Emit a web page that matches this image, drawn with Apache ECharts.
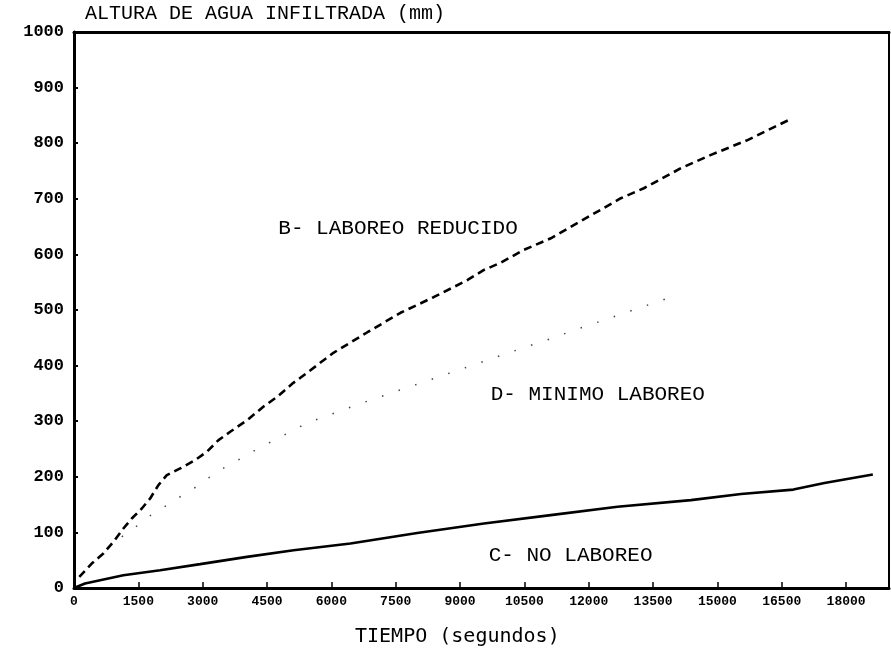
<!DOCTYPE html>
<html>
<head>
<meta charset="utf-8">
<script src="https://cdn.jsdelivr.net/npm/echarts@6/dist/echarts.min.js"></script>
<style>html,body{margin:0;padding:0;background:#fff;}#c{width:891px;height:653px;}</style>
</head>
<body>
<div id="c"></div>
<script>
// ---- data (time in seconds, infiltrated water in mm) ----
const xTicks = [0,1500,3000,4500,6000,7500,9000,10500,12000,13500,15000,16500,18000];
const yTicks = [0,100,200,300,400,500,600,700,800,900,1000];

const bTime = [124,413,684,918,1151,1347,1581,1775,1968,2164,2475,2825,3098,3369,3642,4039,4413,4740,5114,5277,6048,6841,7612,8382,9176,9557,9947,10484,11115,12748,13285,14149,14850,15714,16321,16671];
const bVal  = [20,44,62,83,107,125,143,161,185,203,215,230,245,266,281,302,326,344,369,378,423,460,495,523,554,572,585,608,629,701,719,755,779,806,829,842];

const cTime = [0,257,1151,2008,2942,4032,5120,6444,8001,9557,11114,12671,14382,15549,16770,17495,18623];
const cVal  = [0,8,23,32,43,56,68,80,99,116,131,146,158,169,177,189,204];

const dTime = [1113,1424,1681,1945,2241,2552,2849,3369,3642,4226,5440,6398,6725,8359,10250,10577,10881,11534,11861,13799];
const dVal  = [92,109,125,139,152,168,182,211,222,248,297,324,333,376,426,435,442,460,469,520];

const titleText = 'ALTURA DE AGUA INFILTRADA (mm)';
const xName = 'TIEMPO (segundos)';
const seriesLabels = [
  {text:'B- LABOREO REDUCIDO', at:[4763,646]},
  {text:'D- MINIMO LABOREO',   at:[9714,349]},
  {text:'C- NO LABOREO',       at:[9667,59]}
];

const zip = (a,b) => a.map((v,i)=>[v,b[i]]);
const MONO = '"Liberation Mono", "DejaVu Sans Mono", monospace';
const plain = v => String(v);

const chart = echarts.init(document.getElementById('c'), null, {renderer:'canvas'});
const option = {
  animation:false,
  backgroundColor:'#fff',
  grid:{left:74,right:2,top:32,bottom:65,containLabel:false},
  xAxis:[{
    type:'value',min:0,max:19000,interval:1500,position:'bottom',
    axisLine:{show:true,onZero:false,lineStyle:{color:'#000',width:3}},
    axisTick:{show:true,inside:true,length:6,lineStyle:{color:'#000',width:1.5},customValues:xTicks},
    axisLabel:{show:true,customValues:xTicks,formatter:plain,color:'#000',fontFamily:MONO,fontWeight:'bold',fontSize:13,margin:7},
    splitLine:{show:false}
  },{
    type:'value',min:0,max:19000,position:'top',
    axisLine:{show:true,onZero:false,lineStyle:{color:'#000',width:3}},
    axisTick:{show:false},axisLabel:{show:false},splitLine:{show:false}
  }],
  yAxis:[{
    type:'value',min:0,max:1000,interval:100,position:'left',
    axisLine:{show:true,onZero:false,lineStyle:{color:'#000',width:3}},
    axisTick:{show:true,inside:true,length:4,lineStyle:{color:'#000',width:2},customValues:yTicks},
    axisLabel:{show:true,customValues:yTicks,formatter:plain,color:'#000',fontFamily:MONO,fontWeight:'bold',fontSize:17,margin:10},
    splitLine:{show:false}
  },{
    type:'value',min:0,max:1000,position:'right',
    axisLine:{show:true,onZero:false,lineStyle:{color:'#000',width:2}},
    axisTick:{show:false},axisLabel:{show:false},splitLine:{show:false}
  }],
  series:[
    {name:'B',type:'line',data:zip(bTime,bVal),symbol:'none',smooth:false,
     lineStyle:{color:'#000',width:2.6,type:[8,5]}},
    {name:'C',type:'line',data:zip(cTime,cVal),symbol:'none',smooth:false,
     lineStyle:{color:'#000',width:2.6,type:'solid'}},
    {name:'D',type:'line',data:zip(dTime,dVal),symbol:'none',smooth:false,
     lineStyle:{color:'#444',width:1.5,type:[1.5,16]}}
  ]
};
chart.setOption(option);

const graphics = [
  {type:'text',left:85,top:4,style:{text:titleText,fill:'#000',font:'20px '+MONO}},
  {type:'text',left:355,top:627,style:{text:xName,fill:'#000',font:'20px "DejaVu Sans Mono", monospace'}}
];
seriesLabels.forEach(l=>{
  const p = chart.convertToPixel({gridIndex:0}, l.at);
  graphics.push({type:'text',x:p[0],y:p[1],style:{text:l.text,fill:'#000',font:'21px '+MONO,verticalAlign:'middle',align:'left'}});
});
chart.setOption({graphic:graphics});
</script>
</body>
</html>
